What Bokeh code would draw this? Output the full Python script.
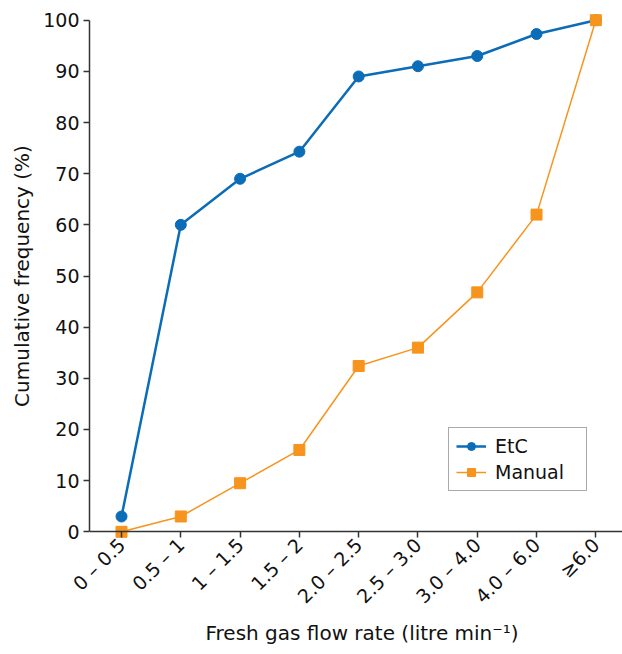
import math
from bokeh.plotting import figure
from bokeh.models import Range1d, FixedTicker, Legend, LegendItem, LinearAxis, Title
from bokeh.embed import file_html
from bokeh.resources import INLINE

# Fresh gas flow rate bins and cumulative frequencies (%)
categories = ["0 – 0.5", "0.5 – 1", "1 – 1.5", "1.5 – 2", "2.0 – 2.5",
              "2.5 – 3.0", "3.0 – 4.0", "4.0 – 6.0", "≥6.0"]
etc_values = [3, 60, 69, 74.3, 89, 91, 93, 97.3, 100]
manual_values = [0, 3, 9.5, 16, 32.4, 36, 46.8, 62, 100]
y_ticks = [0, 10, 20, 30, 40, 50, 60, 70, 80, 90, 100]

FONT = "DejaVu Sans"
FS = "19px"
BLUE = "#0b6cb8"
ORANGE = "#f7941d"
AXIS = "#333333"
TEXT = "#111111"

xs = list(range(len(categories)))

p = figure(width=622, height=654, output_backend="svg", toolbar_location=None,
           x_range=Range1d(-0.54, 8.45), y_range=Range1d(-1.5, 101.5),
           x_axis_location=None,
           min_border_left=89, min_border_right=0, min_border_top=12,
           min_border_bottom=115)
p.outline_line_color = None
p.xgrid.visible = False
p.ygrid.visible = False
p.background_fill_color = "white"
p.border_fill_color = "white"


def style(ax):
    ax.axis_line_color = AXIS
    ax.axis_line_width = 1.5
    ax.major_tick_line_color = AXIS
    ax.major_tick_line_width = 1.5
    ax.major_tick_out = 6
    ax.major_tick_in = 0
    ax.minor_tick_line_color = None
    ax.major_label_text_font = FONT
    ax.major_label_text_font_size = FS
    ax.major_label_text_color = TEXT
    ax.axis_label_text_font = FONT
    ax.axis_label_text_font_size = FS
    ax.axis_label_text_font_style = "normal"
    ax.axis_label_text_color = TEXT


# category labels along the bottom
x_labels = LinearAxis(ticker=FixedTicker(ticks=xs),
                      major_label_overrides={i: c for i, c in enumerate(categories)},
                      major_label_orientation=math.pi / 4)
style(x_labels)
x_labels.axis_line_color = None
x_labels.major_tick_line_color = None
x_labels.major_tick_out = 0
x_labels.major_label_standoff = 2
p.add_layout(x_labels, "below")

# x axis line and ticks sitting at y = 0 (labels come from the axis above)
x_line = LinearAxis(ticker=FixedTicker(ticks=xs), fixed_location=0,
                    bounds=(-0.54, 8.45),
                    major_label_overrides={i: "" for i in xs})
style(x_line)
x_line.major_label_standoff = 0
p.add_layout(x_line, "below")

p.add_layout(Title(text="Fresh gas flow rate (litre min⁻¹)", align="left", offset=116,
                   text_font=FONT, text_font_size="20px", text_font_style="normal",
                   text_color=TEXT, standoff=0), "below")

p.yaxis.bounds = (0, 100)
p.yaxis.ticker = FixedTicker(ticks=y_ticks)
p.yaxis.axis_label = "Cumulative frequency (%)"
style(p.yaxis[0])
p.yaxis.axis_label_text_font_size = "20px"
p.yaxis.major_label_standoff = 4
p.yaxis.axis_label_standoff = 6

# series
l1 = p.line(xs, etc_values, line_color=BLUE, line_width=2.5)
s1 = p.scatter(xs, etc_values, marker="circle", size=11, fill_color=BLUE, line_color=BLUE)
l2 = p.line(xs, manual_values, line_color=ORANGE, line_width=1.5)
s2 = p.scatter(xs, manual_values, marker="square", size=11, fill_color=ORANGE, line_color=ORANGE)

legend = Legend(items=[LegendItem(label="EtC", renderers=[l1, s1]),
                       LegendItem(label="Manual", renderers=[l2, s2])],
                location=(359, 48))
legend.label_text_font = FONT
legend.label_text_font_size = "19px"
legend.label_text_color = TEXT
legend.border_line_color = "#555555"
legend.border_line_width = 1
legend.background_fill_alpha = 1
legend.glyph_width = 30
legend.glyph_height = 20
legend.label_height = 20
legend.label_width = 84
legend.spacing = 4
legend.padding = 7
legend.margin = 0
legend.label_standoff = 9
p.add_layout(legend, "center")

open("out.html", "w").write(file_html(p, INLINE))
